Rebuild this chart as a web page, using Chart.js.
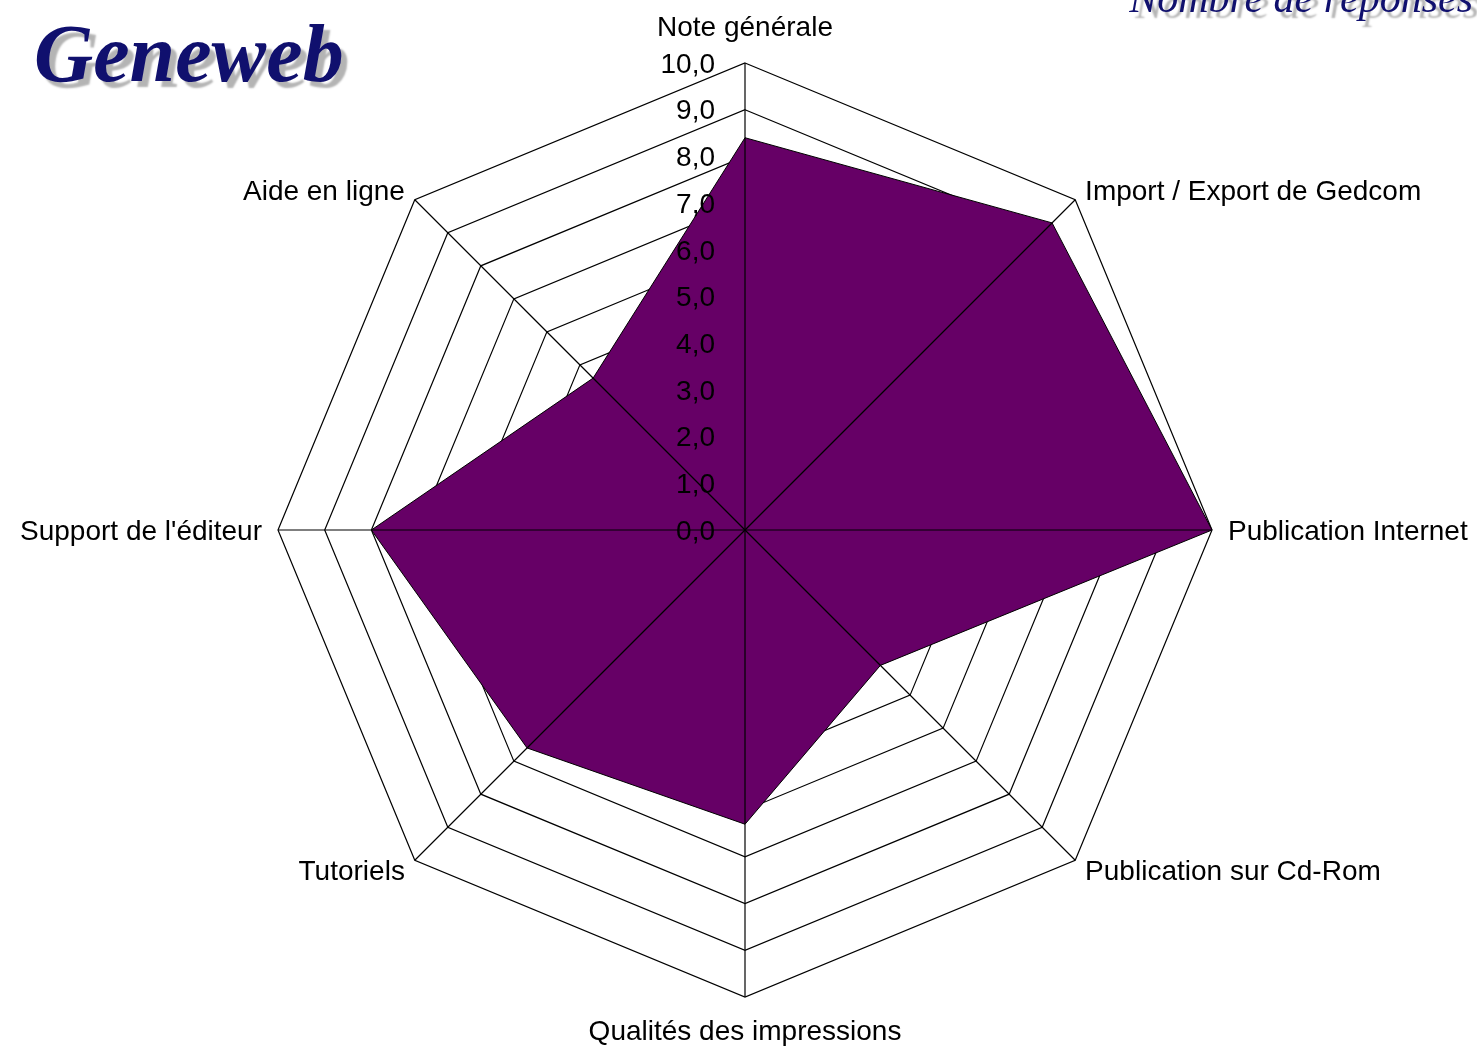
<!DOCTYPE html>
<html>
<head>
<meta charset="utf-8">
<script src="https://cdn.jsdelivr.net/npm/chart.js@4.4.1/dist/chart.umd.min.js"></script>
<style>
  body { margin: 0; background: #fff; }
  #wrap { position: relative; width: 1477px; height: 1047px; overflow: hidden; }
  .logo {
    position: absolute; font-family: "Liberation Serif", "DejaVu Serif", serif;
    font-style: italic; font-weight: bold; color: #10106e; line-height: 1;
    text-shadow: 6px 6px 2px #b4b4b4; white-space: nowrap;
  }
  #title { left: 34px; top: 13px; font-size: 82px; }
  #subtitle { right: 4px; top: -23px; font-size: 42px; font-weight: normal; }
</style>
</head>
<body>
<div id="wrap">
  <canvas id="myChart"></canvas>
  <div id="title" class="logo">Geneweb</div>
  <div id="subtitle" class="logo">Nombre de réponses</div>
</div>
<script>
"use strict";

const categories = [
    "Note générale",
    "Import / Export de Gedcom",
    "Publication Internet",
    "Publication sur Cd-Rom",
    "Qualités des impressions",
    "Tutoriels",
    "Support de l'éditeur",
    "Aide en ligne"
];
const notes = [8.4, 9.3, 10.0, 4.1, 6.3, 6.6, 8.0, 4.6];
const tickLabels = ["0,0", "1,0", "2,0", "3,0", "4,0", "5,0", "6,0", "7,0", "8,0", "9,0", "10,0"];

const FONT = '28px "Liberation Sans", Arial, sans-serif';

// spokes + tick labels + category labels go on top of the filled area
const overlay = {
    id: 'overlay',
    afterDatasetsDraw(chart) {
        const scale = chart.scales.r;
        const ctx = chart.ctx;
        const R = scale.drawingArea;
        const cx = scale.xCenter, cy = scale.yCenter;

        ctx.save();
        ctx.strokeStyle = '#000';
        ctx.lineWidth = 1.2;
        categories.forEach((c, i) => {
            const p = scale.getPointPosition(i, R);
            ctx.beginPath();
            ctx.moveTo(cx, cy);
            ctx.lineTo(p.x, p.y);
            ctx.stroke();
        });

        ctx.font = FONT;
        ctx.fillStyle = '#000';
        ctx.textAlign = 'right';
        ctx.textBaseline = 'middle';
        tickLabels.forEach((t, i) => {
            const d = scale.getDistanceFromCenterForValue(i);
            ctx.fillText(t, cx - 30, cy - d + 2);
        });

        categories.forEach((c, i) => {
            let extra = 14;
            if (i === 0) extra = 37;
            else if (i === 4) extra = 33;
            else if (i % 4 === 2) extra = 16;
            const p = scale.getPointPosition(i, R + extra);
            if (Math.abs(p.x - cx) < 2) ctx.textAlign = 'center';
            else ctx.textAlign = p.x > cx ? 'left' : 'right';
            ctx.fillText(c, p.x, p.y + 2);
        });
        ctx.restore();
    }
};

const ctx = document.getElementById('myChart');

new Chart(ctx, {
    type: 'radar',
    data: {
        labels: categories,
        datasets: [{
            label: 'Geneweb',
            data: notes,
            backgroundColor: '#660066',
            borderColor: '#000',
            borderWidth: 1,
            pointRadius: 0,
            fill: true
        }]
    },
    options: {
        responsive: true,
        maintainAspectRatio: false,
        animation: false,
        layout: {
            padding: { left: 278, right: 265, top: 63, bottom: 50 }
        },
        plugins: {
            legend: { display: false },
            tooltip: { enabled: false }
        },
        scales: {
            r: {
                min: 0,
                max: 10,
                ticks: { stepSize: 1, display: false },
                grid: { color: '#000', lineWidth: 1.2 },
                angleLines: { display: false },
                pointLabels: { display: false }
            }
        }
    },
    plugins: [overlay]
});
</script>
</body>
</html>
